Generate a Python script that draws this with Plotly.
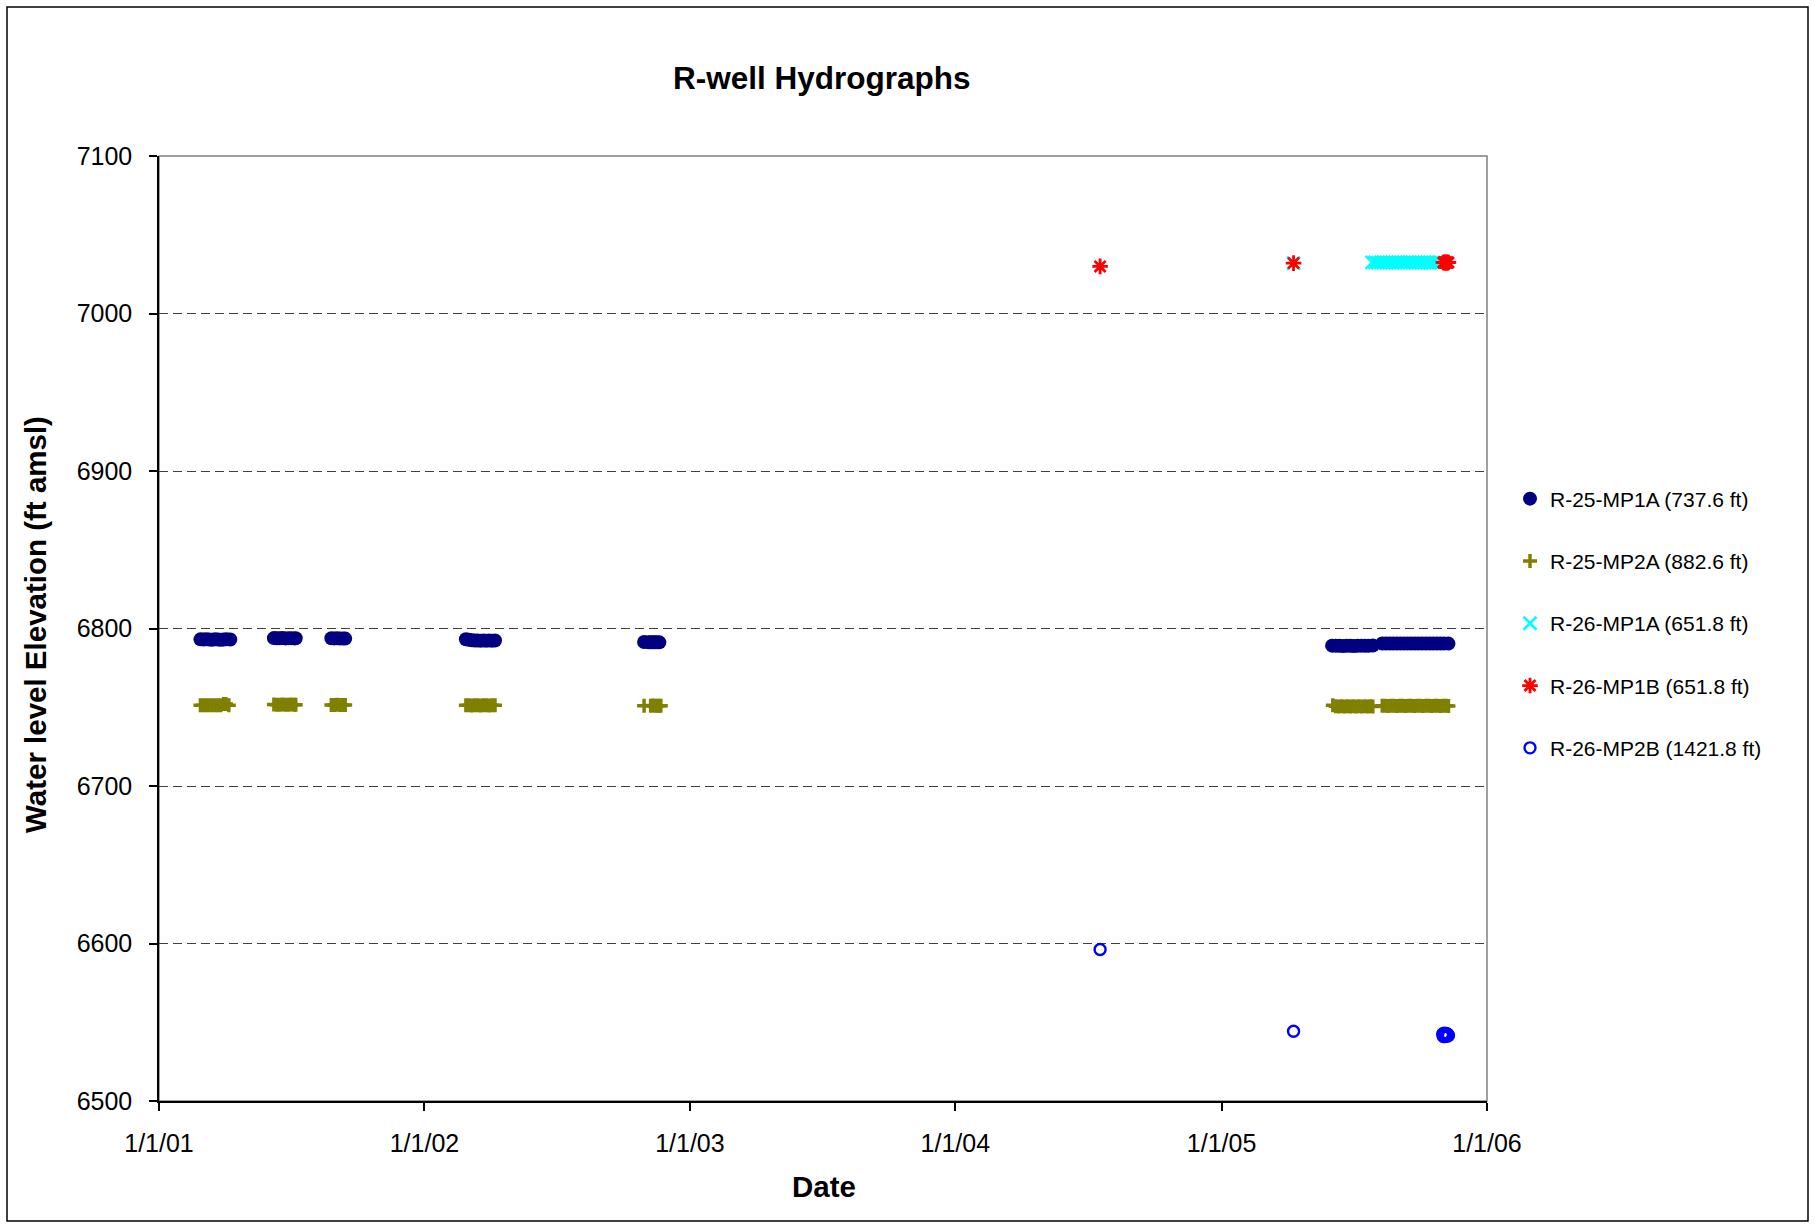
import plotly.graph_objects as go

# ---------------- data ----------------
r25_mp1a_dates = [
    "2001-02-27", "2001-03-03", "2001-03-07", "2001-03-11", "2001-03-15", "2001-03-19",
    "2001-03-23", "2001-03-27", "2001-03-31", "2001-04-04", "2001-04-09",
    "2001-06-08", "2001-06-12", "2001-06-16", "2001-06-20", "2001-06-24", "2001-06-28",
    "2001-07-02", "2001-07-06", "2001-07-08",
    "2001-08-26", "2001-08-30", "2001-09-03", "2001-09-07", "2001-09-11", "2001-09-14",
    "2002-02-27", "2002-03-03", "2002-03-07", "2002-03-11", "2002-03-15", "2002-03-19",
    "2002-03-23", "2002-03-27", "2002-03-31", "2002-04-04", "2002-04-08",
    "2002-10-30", "2002-11-05", "2002-11-08", "2002-11-11", "2002-11-14", "2002-11-17",
    "2002-11-20",
    "2005-06-02", "2005-06-07", "2005-06-12", "2005-06-17", "2005-06-22", "2005-06-27",
    "2005-07-02", "2005-07-07", "2005-07-12", "2005-07-17", "2005-07-22", "2005-07-28",
    "2005-08-10", "2005-08-15", "2005-08-20", "2005-08-25", "2005-08-30", "2005-09-04",
    "2005-09-09", "2005-09-14", "2005-09-19", "2005-09-24", "2005-09-29", "2005-10-04",
    "2005-10-09", "2005-10-14", "2005-10-19", "2005-10-24", "2005-10-29", "2005-11-03",
    "2005-11-09",
]
r25_mp1a_elev = [
    6793.1, 6793.0, 6793.2, 6793.0, 6792.9, 6793.1,
    6793.0, 6792.9, 6793.0, 6793.1, 6793.0,
    6793.9, 6793.8, 6793.8, 6793.9, 6793.7, 6793.8,
    6793.8, 6793.7, 6793.8,
    6793.8, 6793.7, 6793.8, 6793.6, 6793.7, 6793.6,
    6793.2, 6792.9, 6792.5, 6792.4, 6792.4, 6792.3,
    6792.4, 6792.3, 6792.4, 6792.3, 6792.4,
    6791.4, 6791.3, 6791.2, 6791.3, 6791.2, 6791.3,
    6791.2,
    6789.1, 6789.0, 6789.0, 6788.9, 6789.0, 6789.0,
    6788.9, 6789.0, 6789.1, 6789.0, 6789.0, 6789.2,
    6790.5, 6790.4, 6790.5, 6790.4, 6790.4, 6790.5,
    6790.4, 6790.5, 6790.4, 6790.4, 6790.5, 6790.4,
    6790.5, 6790.4, 6790.4, 6790.5, 6790.4, 6790.5,
    6790.4,
]

r25_mp2a_dates = [
    "2001-02-27", "2001-03-03", "2001-03-07", "2001-03-11", "2001-03-15", "2001-03-19",
    "2001-03-23", "2001-03-27", "2001-03-31", "2001-04-03", "2001-04-07",
    "2001-06-08", "2001-06-12", "2001-06-16", "2001-06-20", "2001-06-24", "2001-06-28",
    "2001-07-02", "2001-07-06", "2001-07-08",
    "2001-08-26", "2001-08-30", "2001-09-03", "2001-09-07", "2001-09-11", "2001-09-14",
    "2002-02-27", "2002-03-03", "2002-03-07", "2002-03-11", "2002-03-15", "2002-03-19",
    "2002-03-23", "2002-03-27", "2002-03-31", "2002-04-04", "2002-04-08",
    "2002-10-30", "2002-11-08", "2002-11-11", "2002-11-14", "2002-11-17", "2002-11-20",
    "2002-11-22",
    "2005-06-03", "2005-06-07", "2005-06-11", "2005-06-15", "2005-06-19", "2005-06-23",
    "2005-06-27", "2005-07-01", "2005-07-05", "2005-07-09", "2005-07-13", "2005-07-17",
    "2005-07-21", "2005-07-25", "2005-07-28",
    "2005-08-10", "2005-08-14", "2005-08-18", "2005-08-22", "2005-08-26", "2005-08-30",
    "2005-09-03", "2005-09-07", "2005-09-11", "2005-09-15", "2005-09-19", "2005-09-23",
    "2005-09-27", "2005-10-01", "2005-10-05", "2005-10-09", "2005-10-13", "2005-10-17",
    "2005-10-21", "2005-10-25", "2005-10-29", "2005-11-02", "2005-11-06", "2005-11-09",
]
r25_mp2a_elev = [
    6751.3, 6751.2, 6751.3, 6751.2, 6751.3, 6751.2,
    6751.3, 6751.2, 6752.0, 6752.1, 6751.3,
    6751.7, 6751.6, 6751.6, 6751.7, 6751.6, 6751.6,
    6751.7, 6751.6, 6751.6,
    6751.5, 6751.5, 6751.6, 6751.5, 6751.5, 6751.5,
    6751.2, 6751.2, 6751.1, 6751.2, 6751.2, 6751.1,
    6751.2, 6751.2, 6751.1, 6751.2, 6751.2,
    6751.0, 6751.0, 6751.1, 6751.0, 6751.0, 6751.0,
    6751.0,
    6751.2, 6750.6, 6750.5, 6750.6, 6750.5, 6750.6,
    6750.5, 6750.6, 6750.5, 6750.6, 6750.5, 6750.6,
    6750.5, 6750.6, 6750.5,
    6750.9, 6750.9, 6750.8, 6750.9, 6750.9, 6750.8,
    6750.9, 6750.9, 6750.8, 6750.9, 6750.9, 6750.8,
    6750.9, 6750.9, 6750.8, 6750.9, 6750.9, 6750.8,
    6750.9, 6750.9, 6750.8, 6750.9, 6750.9, 6750.8,
]

r26_mp1a_dates = [
    "2005-04-10",
    "2005-07-27", "2005-07-31", "2005-08-04", "2005-08-08", "2005-08-12", "2005-08-16",
    "2005-08-20", "2005-08-24", "2005-08-28", "2005-09-01", "2005-09-05", "2005-09-09",
    "2005-09-13", "2005-09-17", "2005-09-21", "2005-09-25", "2005-09-29", "2005-10-03",
    "2005-10-07", "2005-10-11", "2005-10-15", "2005-10-19", "2005-10-23", "2005-10-28",
]
r26_mp1a_elev = [
    7032.0,
    7032.4, 7032.4, 7032.3, 7032.4, 7032.4, 7032.3,
    7032.4, 7032.4, 7032.3, 7032.4, 7032.4, 7032.3,
    7032.4, 7032.4, 7032.3, 7032.4, 7032.4, 7032.3,
    7032.4, 7032.4, 7032.3, 7032.4, 7032.4, 7032.4,
]

r26_mp1b_dates = [
    "2004-07-18", "2005-04-10",
    "2005-11-02", "2005-11-03", "2005-11-04", "2005-11-05", "2005-11-06", "2005-11-07",
    "2005-11-08", "2005-11-09",
]
r26_mp1b_elev = [
    7029.9, 7032.0,
    7032.4, 7032.4, 7032.3, 7032.4, 7032.4, 7032.3, 7032.4, 7032.4,
]

r26_mp2b_dates = [
    "2004-07-18", "2005-04-10",
    "2005-11-01", "2005-11-02", "2005-11-03", "2005-11-04", "2005-11-05", "2005-11-06",
    "2005-11-07", "2005-11-08", "2005-11-09",
]
r26_mp2b_elev = [
    6596.2, 6544.3,
    6542.6, 6541.0, 6543.0, 6540.9, 6542.0, 6542.9, 6541.1, 6542.4, 6541.6,
]

x_tick_vals = ["2001-01-01", "2002-01-01", "2003-01-01", "2004-01-01", "2005-01-01", "2006-01-01"]
x_tick_text = ["1/1/01", "1/1/02", "1/1/03", "1/1/04", "1/1/05", "1/1/06"]
y_tick_vals = [6500, 6600, 6700, 6800, 6900, 7000, 7100]

# ---------------- layout geometry (pixels) ----------------
FIG_W, FIG_H = 1815, 1227
PLOT_L, PLOT_R, PLOT_T, PLOT_B = 159, 1487, 156, 1101
FONT = "Liberation Sans, Arial, sans-serif"


def paper_x(px):
    return (px - PLOT_L) / (PLOT_R - PLOT_L)


def paper_y(py):
    return (PLOT_B - py) / (PLOT_B - PLOT_T)


fig = go.Figure()

fig.add_trace(go.Scatter(
    x=r25_mp1a_dates, y=r25_mp1a_elev, mode="markers",
    name="R-25-MP1A (737.6 ft)", legendgroup="g1",
    marker=dict(symbol="circle", size=14, color="#000080", line=dict(width=0)),
))
fig.add_trace(go.Scatter(
    x=r25_mp2a_dates, y=r25_mp2a_elev, mode="markers",
    name="R-25-MP2A (882.6 ft)", legendgroup="g2",
    marker=dict(symbol="cross-thin-open", size=10, color="#808000",
                line=dict(width=3.5, color="#808000")),
))
fig.add_trace(go.Scatter(
    x=r26_mp1a_dates, y=r26_mp1a_elev, mode="markers",
    name="R-26-MP1A (651.8 ft)", legendgroup="g3",
    marker=dict(symbol="x-thin-open", size=13, color="#00FFFF",
                line=dict(width=2.5, color="#00FFFF")),
))
fig.add_trace(go.Scatter(
    x=r26_mp1b_dates, y=r26_mp1b_elev, mode="markers",
    name="R-26-MP1B (651.8 ft)", legendgroup="g4",
    marker=dict(symbol="asterisk-open", size=13, color="#FF0000",
                line=dict(width=2.8, color="#FF0000")),
))
fig.add_trace(go.Scatter(
    x=r26_mp2b_dates, y=r26_mp2b_elev, mode="markers",
    name="R-26-MP2B (1421.8 ft)", legendgroup="g5",
    marker=dict(symbol="circle-open", size=11, color="#0000FF",
                line=dict(width=2.4, color="#0000FF")),
))

shapes = [
    # plot-area frame (gray), sits under the dashed gridlines
    dict(type="rect", xref="paper", yref="paper", x0=0, x1=1, y0=0, y1=1,
         line=dict(color="#808080", width=1.5), layer="below"),
    # chart-area frame (black)
    dict(type="rect", xref="paper", yref="paper",
         x0=paper_x(7), x1=paper_x(1808), y0=paper_y(1221), y1=paper_y(7),
         line=dict(color="#000000", width=1.5), layer="above"),
]

annotations = [
    dict(text="<b>R-well Hydrographs</b>", xref="paper", yref="paper",
         x=paper_x(822), y=paper_y(78), xanchor="center", yanchor="middle",
         showarrow=False, font=dict(family=FONT, size=31.5, color="#000000")),
    dict(text="<b>Date</b>", xref="paper", yref="paper",
         x=paper_x(824), y=paper_y(1186), xanchor="center", yanchor="middle",
         showarrow=False, font=dict(family=FONT, size=29.5, color="#000000")),
    dict(text="<b>Water level Elevation (ft amsl)</b>", xref="paper", yref="paper",
         x=paper_x(35), y=paper_y(625), xanchor="center", yanchor="middle",
         textangle=-90, showarrow=False,
         font=dict(family=FONT, size=29.5, color="#000000")),
]

fig.update_layout(
    width=FIG_W, height=FIG_H,
    margin=dict(l=PLOT_L, r=FIG_W - PLOT_R, t=PLOT_T, b=FIG_H - PLOT_B, pad=0),
    paper_bgcolor="#FFFFFF", plot_bgcolor="#FFFFFF",
    font=dict(family=FONT, size=24, color="#000000"),
    showlegend=True,
    legend=dict(
        x=paper_x(1510), y=paper_y(478.5), xanchor="left", yanchor="top",
        font=dict(family=FONT, size=21, color="#000000"),
        bgcolor="rgba(0,0,0,0)", borderwidth=0,
        traceorder="grouped", tracegroupgap=32,
    ),
    shapes=shapes,
    annotations=annotations,
    xaxis=dict(
        type="date", range=["2001-01-01", "2006-01-01"],
        tickvals=x_tick_vals, ticktext=x_tick_text,
        ticks="outside", ticklen=8, tickwidth=1.5, tickcolor="#000000",
        showline=True, linecolor="#000000", linewidth=1.5,
        showgrid=False, zeroline=False,
        tickfont=dict(family=FONT, size=25, color="#000000"),
        ticklabelstandoff=11,
    ),
    yaxis=dict(
        range=[6500, 7100], tickvals=y_tick_vals,
        ticks="outside", ticklen=8, tickwidth=1.5, tickcolor="#000000",
        showline=True, linecolor="#000000", linewidth=1.5,
        showgrid=True, gridcolor="#404040", gridwidth=1.3, griddash="9px,5px",
        zeroline=False,
        tickfont=dict(family=FONT, size=25, color="#000000"),
        ticklabelstandoff=12,
    ),
)

fig.write_html("out.html")
